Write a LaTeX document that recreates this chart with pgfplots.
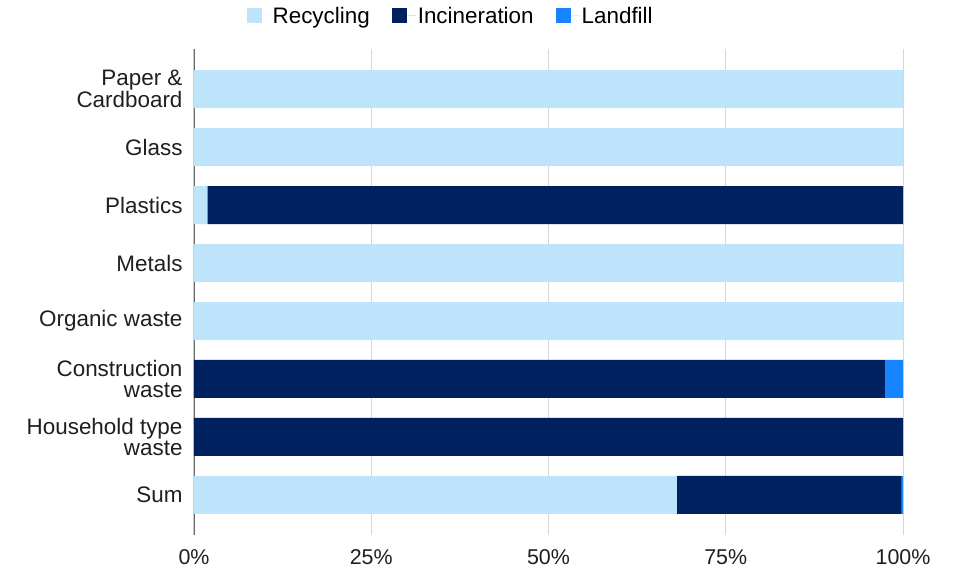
\documentclass[border=0pt]{standalone}
\usepackage{pgfplots}
\pgfplotsset{compat=1.18}
\usepackage{fontspec}
\setmainfont{Liberation Sans}
\definecolor{rec}{RGB}{190,228,252}
\definecolor{inc}{RGB}{0,33,95}
\definecolor{land}{RGB}{23,133,255}
\definecolor{gridc}{RGB}{215,215,215}
\definecolor{axc}{RGB}{105,105,105}
\begin{document}
\begin{tikzpicture}
\path (-194bp,-35bp) rectangle (761bp,535bp);
\begin{axis}[
  at={(0,0)}, anchor=south west,
  scale only axis,
  width=709bp, height=486bp,
  xbar stacked,
  bar width=38bp,
  xmin=0, xmax=100,
  ymin=-0.69, ymax=7.69,
  y dir=reverse,
  ytick={0,1,2,3,4,5,6,7},
  yticklabels={{Paper \&\\Cardboard},Glass,Plastics,Metals,{Organic waste},{Construction\\waste},{Household type\\waste},Sum},
  yticklabel style={align=right, font=\fontsize{22.5}{20.5}\selectfont, text=black!88, xshift=-8bp},
  xtick={0,25,50,75,100},
  xticklabels={0\%,25\%,50\%,75\%,100\%},
  xticklabel style={font=\fontsize{21.5}{23}\selectfont, text=black!88, yshift=-11bp},
  major tick length=0pt,
  xmajorgrids,
  grid style={gridc, line width=1bp},
  axis line style={draw=none},
  legend style={at={(axis description cs:0.362,1.068)}, anchor=center, draw=none,
    font=\fontsize{22.5}{24}\selectfont, legend columns=3,
    /tikz/every even column/.append style={column sep=20bp}},
  legend image code/.code={\fill[#1] (0bp,-7.5bp) rectangle (15bp,7.5bp); \path (0bp,0bp) -- (24bp,0bp);},
  legend cell align=left,
]
\addplot[fill=rec, draw=none] coordinates {(100,0) (100,1) (1.9,2) (100,3) (100,4) (0,5) (0,6) (68.1,7)};
\addlegendentry{Recycling}
\addplot[fill=inc, draw=none] coordinates {(0,0) (0,1) (98.1,2) (0,3) (0,4) (97.5,5) (100,6) (31.7,7)};
\addlegendentry{Incineration}
\addplot[fill=land, draw=none] coordinates {(0,0) (0,1) (0,2) (0,3) (0,4) (2.5,5) (0,6) (0.2,7)};
\addlegendentry{Landfill}
\draw[axc, line width=1.6bp] (axis cs:0,-0.69) -- (axis cs:0,7.69);
\end{axis}
\end{tikzpicture}
\end{document}
